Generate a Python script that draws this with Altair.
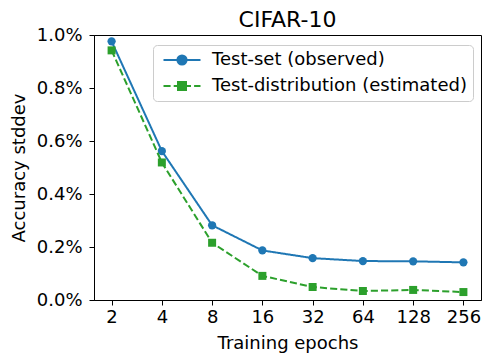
import altair as alt
import pandas as pd

epochs = [2, 4, 8, 16, 32, 64, 128, 256]
observed = [0.00976, 0.00562, 0.00282, 0.00187, 0.00158, 0.00147, 0.00146, 0.00142]
estimated = [0.00942, 0.00519, 0.00216, 0.00091, 0.00049, 0.00034, 0.00038, 0.00030]
series_names = ["Test-set (observed)", "Test-distribution (estimated)"]
series_colors = ["#1f77b4", "#2ca02c"]
x_ticks = [2, 4, 8, 16, 32, 64, 128, 256]
y_ticks = [0.0, 0.002, 0.004, 0.006, 0.008, 0.010]

FONT = "DejaVu Sans"

df = pd.DataFrame({
    "epochs": epochs * 2,
    "value": observed + estimated,
    "series": [series_names[0]] * len(epochs) + [series_names[1]] * len(epochs),
})

# ---- legend symbol paths (line + marker), units scaled by sqrt(size)/2 ----
SYM_SIZE = 81
U = (SYM_SIZE ** 0.5) / 2.0  # px per unit
x0_px, x1_px, mc_px = -4.5, 32.5, 14.0


def u(px):
    return px / U


def circle_path():
    r = u(4.6)
    cx = u(mc_px)
    line = f"M{u(x0_px):.3f},0L{u(x1_px):.3f},0"
    circ = (f"M{cx - r:.3f},0A{r:.3f},{r:.3f} 0 1,1 {cx + r:.3f},0"
            f"A{r:.3f},{r:.3f} 0 1,1 {cx - r:.3f},0Z")
    return line + circ


def square_dashed_path():
    on, off = 7.1, 3.1
    segs = []
    x = x0_px
    while x < x1_px:
        e = min(x + on, x1_px)
        segs.append(f"M{u(x):.3f},0L{u(e):.3f},0")
        x = e + off
    h = u(4.0)
    cx = u(mc_px)
    sq = (f"M{cx - h:.3f},{-h:.3f}L{cx + h:.3f},{-h:.3f}L{cx + h:.3f},{h:.3f}"
          f"L{cx - h:.3f},{h:.3f}Z")
    return "".join(segs) + sq


shape_range = [circle_path(), square_dashed_path()]

x_enc = alt.X(
    "epochs:Q",
    scale=alt.Scale(type="log", base=2, domain=[2 ** 0.65, 2 ** 8.35], nice=False),
    axis=alt.Axis(values=x_ticks, format="d", title="Training epochs", grid=False,
                  labelPadding=3, titlePadding=8),
)
y_enc = alt.Y(
    "value:Q",
    scale=alt.Scale(domain=[0, 0.01], nice=False, zero=False),
    axis=alt.Axis(values=y_ticks, format=".1%", title="Accuracy stddev", grid=False,
                  labelPadding=7, titlePadding=8),
)

base = alt.Chart(df)

layers = []
dashes = [[1, 0], [7.1, 3.1]]
shapes = ["circle", "square"]
sizes = [68, 64]
for name, col, dash, shp, sz in zip(series_names, series_colors, dashes, shapes, sizes):
    sub = base.transform_filter(alt.datum.series == name)
    layers.append(
        sub.mark_line(strokeWidth=2, strokeDash=dash, color=col).encode(x=x_enc, y=y_enc)
    )
    layers.append(
        sub.mark_point(filled=True, shape=shp, size=sz, color=col, opacity=1).encode(
            x=x_enc, y=y_enc)
    )

leg = alt.Legend(
    title=None, orient="none", legendX=59, legendY=10,
    labelFontSize=18, labelFont=FONT, labelColor="black", labelLimit=500,
    symbolSize=SYM_SIZE, symbolStrokeWidth=2, labelOffset=35,
    padding=6, rowPadding=8, cornerRadius=4,
    strokeColor="#cccccc", fillColor="rgba(255,255,255,0.8)",
    symbolOpacity=1,
)
legend_layer = base.transform_filter("false").mark_point(filled=True).encode(
    x=x_enc, y=y_enc,
    fill=alt.Fill("series:N", scale=alt.Scale(domain=series_names, range=series_colors), legend=leg),
    stroke=alt.Stroke("series:N", scale=alt.Scale(domain=series_names, range=series_colors), legend=leg),
    shape=alt.Shape("series:N", scale=alt.Scale(domain=series_names, range=shape_range), legend=leg),
)
layers.append(legend_layer)

chart = alt.layer(*layers).properties(
    width=387, height=265,
    title=alt.TitleParams("CIFAR-10", fontSize=22, fontWeight="normal", font=FONT,
                          color="black", offset=-6),
    autosize=alt.AutoSizeParams(type="none"),
    padding={"left": 86, "top": 27, "right": 3, "bottom": 55},
).configure_view(
    stroke="black", strokeWidth=1
).configure_axis(
    labelFont=FONT, titleFont=FONT, labelFontSize=18, titleFontSize=18,
    labelColor="black", titleColor="black", titleFontWeight="normal",
    domainColor="black", tickColor="black", tickSize=5, tickWidth=1,
)

chart.save("out.html", embed_options={"renderer": "svg", "actions": False})
